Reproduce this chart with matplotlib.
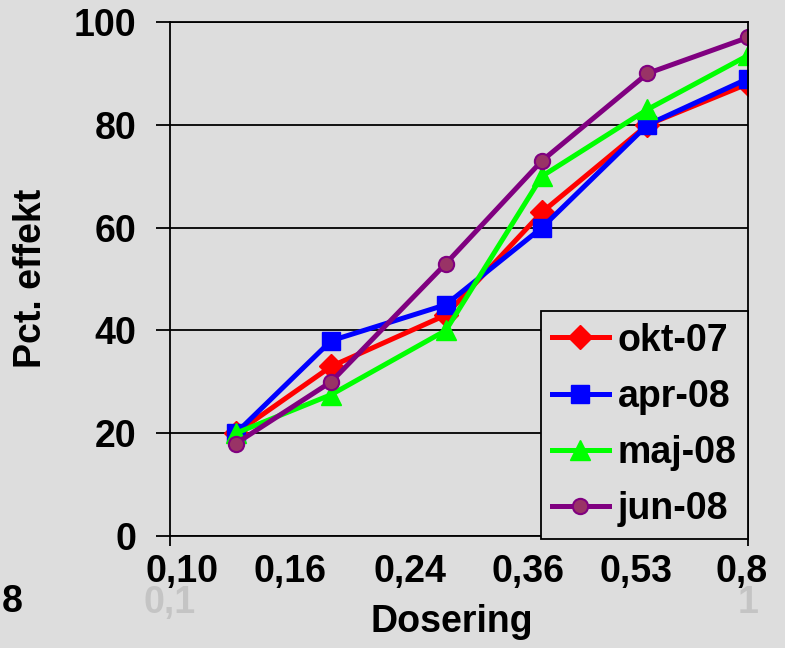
import matplotlib

matplotlib.use("Agg")
import matplotlib.pyplot as plt
from matplotlib.ticker import FixedLocator, FixedFormatter, NullLocator

plt.rcParams["font.family"] = ["Liberation Sans", "DejaVu Sans"]
plt.rcParams["font.weight"] = "bold"

# Dose steps (log axis) and measured effect per test round
dose = [0.13, 0.19, 0.30, 0.44, 0.67, 1.0]
okt_07 = [20, 33, 43, 63, 80, 88]
apr_08 = [20, 38, 45, 60, 80, 89]
maj_08 = [20, 27.5, 40, 70, 83, 93.5]
jun_08 = [18, 30, 53, 73, 90, 97]

dose_labels = ["0,10", "0,16", "0,24", "0,36", "0,53", "0,8"]
label_xfrac = [0.021, 0.208, 0.416, 0.620, 0.806, 0.988]

BG = "#dddddd"
FS = 27

fig = plt.figure(figsize=(7.85, 6.48), dpi=100, facecolor=BG)
ax = fig.add_axes([0.2166, 0.1728, 0.7363, 0.7932], facecolor=BG)

lw = 3.6
ax.plot(dose, okt_07, "-D", color="#ff0000", lw=lw, ms=12, label="okt-07")
ax.plot(dose, apr_08, "-s", color="#0000ff", lw=lw, ms=13, label="apr-08")
ax.plot(dose, maj_08, "-^", color="#00ff00", lw=lw, ms=15, label="maj-08")
ax.plot(dose, jun_08, "-o", color="#800080", lw=lw, ms=11,
        markerfacecolor="#993366", markeredgecolor="#800080", mew=1.5,
        label="jun-08")

ax.set_xscale("log")
ax.set_xlim(0.1, 1.0)
ax.set_ylim(0, 100)
ax.xaxis.set_major_locator(FixedLocator([0.1, 1.0]))
ax.xaxis.set_major_formatter(FixedFormatter(["0,1", "1"]))
ax.xaxis.set_minor_locator(NullLocator())
ax.set_yticks([0, 20, 40, 60, 80, 100])

ax.grid(axis="y", color="black", lw=1.3)
ax.set_axisbelow(True)
for sp in ax.spines.values():
    sp.set_color("black")
    sp.set_linewidth(1.3)

ax.tick_params(axis="y", direction="out", length=10, width=1.3,
               pad=14, labelsize=FS)
ax.tick_params(axis="x", direction="out", length=7, width=1.3,
               pad=28, labelsize=FS, labelcolor="#c4c4c4")

# dose labels written under the axis
for txt, xf in zip(dose_labels, label_xfrac):
    ax.text(xf, -0.07, txt, transform=ax.transAxes, ha="center",
            va="center", fontsize=FS, fontweight="bold", color="black")

ax.set_xlabel("Dosering", fontsize=FS, fontweight="bold")
ax.xaxis.set_label_coords(0.488, -0.167)
ax.xaxis.label.set_va("center")
ax.set_ylabel("Pct. effekt", fontsize=FS, fontweight="bold")
ax.yaxis.set_label_coords(-0.24, 0.502)
ax.yaxis.label.set_va("center")

fig.text(12 / 785, 1 - 602 / 648, "8", fontsize=FS, fontweight="bold",
         ha="center", va="center")

leg = ax.legend(loc="lower right", bbox_to_anchor=(1.0, -0.005),
                borderaxespad=0, fontsize=FS, numpoints=1,
                handlelength=1.5, handletextpad=0.25, borderpad=0.3,
                labelspacing=0.54, fancybox=False, framealpha=1,
                facecolor=BG, edgecolor="black")
leg.get_frame().set_linewidth(1.3)
for t in leg.get_texts():
    t.set_fontweight("bold")

fig.savefig("out.png", dpi=100, facecolor=BG)
